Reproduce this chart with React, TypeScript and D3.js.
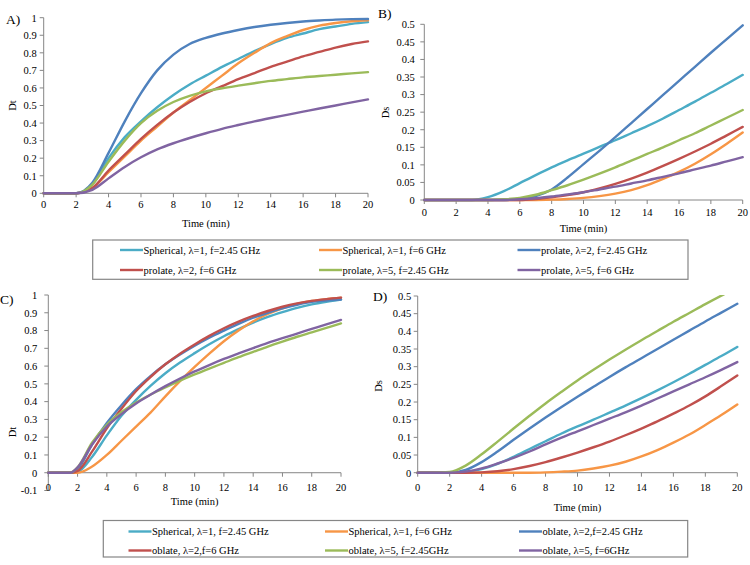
import React from 'react';
import * as d3 from 'd3';

const COLORS = ['#4BACC6', '#F79646', '#4F81BD', '#C0504D', '#9BBB59', '#8064A2'];

const xTicks = [0, 2, 4, 6, 8, 10, 12, 14, 16, 18, 20];
const dtTicksAB = [0, 0.1, 0.2, 0.3, 0.4, 0.5, 0.6, 0.7, 0.8, 0.9, 1];
const dtTicksC = [-0.1, 0, 0.1, 0.2, 0.3, 0.4, 0.5, 0.6, 0.7, 0.8, 0.9, 1];
const dsTicks = [0, 0.05, 0.1, 0.15, 0.2, 0.25, 0.3, 0.35, 0.4, 0.45, 0.5];

const legendTop = [
  'Spherical, λ=1, f=2.45 GHz',
  'Spherical, λ=1, f=6 GHz',
  'prolate, λ=2, f=2.45 GHz',
  'prolate, λ=2, f=6 GHz',
  'prolate, λ=5, f=2.45 GHz',
  'prolate, λ=5, f=6 GHz',
];
const legendBottom = [
  'Spherical, λ=1, f=2.45 GHz',
  'Spherical, λ=1, f=6 GHz',
  'oblate, λ=2,f=2.45 GHz',
  'oblate, λ=2,f=6 GHz',
  'oblate, λ=5, f=2.45GHz',
  'oblate, λ=5, f=6GHz',
];

// Panel A: Dt, prolate
const timeA = [0, 1, 2, 3, 4, 5, 6, 7, 8, 9, 10, 11, 12, 13, 14, 15, 16, 17, 18, 19, 20];
const aSph245 = [0, 0, 0, 0.05, 0.2, 0.32, 0.41, 0.49, 0.56, 0.62, 0.67, 0.72, 0.765, 0.81, 0.85, 0.885, 0.91, 0.935, 0.95, 0.965, 0.975];
const aSph6 = [0, 0, 0, 0.03, 0.12, 0.21, 0.3, 0.38, 0.46, 0.53, 0.6, 0.67, 0.74, 0.8, 0.855, 0.895, 0.93, 0.955, 0.97, 0.98, 0.985];
const aPro2_245 = [0, 0, 0, 0.06, 0.23, 0.41, 0.57, 0.7, 0.79, 0.85, 0.885, 0.91, 0.93, 0.947, 0.96, 0.97, 0.978, 0.984, 0.989, 0.992, 0.993];
const aPro2_6 = [0, 0, 0, 0.03, 0.13, 0.22, 0.31, 0.39, 0.46, 0.52, 0.57, 0.61, 0.65, 0.685, 0.72, 0.75, 0.78, 0.805, 0.83, 0.85, 0.865];
const aPro5_245 = [0, 0, 0, 0.05, 0.18, 0.3, 0.4, 0.47, 0.52, 0.555, 0.58, 0.598, 0.613, 0.627, 0.64, 0.65, 0.66, 0.668, 0.675, 0.683, 0.69];
const aPro5_6 = [0, 0, 0, 0.02, 0.085, 0.15, 0.205, 0.25, 0.285, 0.315, 0.342, 0.367, 0.389, 0.41, 0.429, 0.447, 0.465, 0.483, 0.5, 0.518, 0.535];

// Panel B: Ds, prolate
const timeB = [0, 1, 2, 3, 4, 5, 6, 7, 8, 9, 10, 11, 12, 13, 14, 15, 16, 17, 18, 19, 20];
const bSph245 = [0, 0, 0, 0, 0.008, 0.025, 0.048, 0.071, 0.093, 0.113, 0.132, 0.151, 0.17, 0.19, 0.21, 0.232, 0.256, 0.28, 0.305, 0.33, 0.356];
const bSph6 = [0, 0, 0, 0, 0, 0, 0, 0, 0.001, 0.003, 0.006, 0.011, 0.018, 0.028, 0.042, 0.06, 0.08, 0.103, 0.13, 0.16, 0.192];
const bPro2_245 = [0, 0, 0, 0, 0, 0, 0.003, 0.011, 0.03, 0.064, 0.102, 0.14, 0.179, 0.219, 0.259, 0.299, 0.339, 0.379, 0.419, 0.458, 0.497];
const bPro2_6 = [0, 0, 0, 0, 0, 0, 0, 0.003, 0.008, 0.014, 0.022, 0.033, 0.046, 0.061, 0.078, 0.097, 0.117, 0.138, 0.16, 0.184, 0.208];
const bPro5_245 = [0, 0, 0, 0, 0, 0.002, 0.006, 0.015, 0.028, 0.042, 0.058, 0.075, 0.093, 0.112, 0.131, 0.15, 0.17, 0.19, 0.212, 0.234, 0.256];
const bPro5_6 = [0, 0, 0, 0, 0, 0, 0.002, 0.005, 0.01, 0.016, 0.022, 0.03, 0.038, 0.047, 0.056, 0.066, 0.076, 0.087, 0.098, 0.11, 0.122];

// Panel C: Dt, oblate
const timeC = [0, 1, 1.5, 2, 3, 4, 5, 6, 7, 8, 9, 10, 11, 12, 13, 14, 15, 16, 17, 18, 19, 20];
const cSph245 = [0, 0, 0, 0.005, 0.09, 0.21, 0.32, 0.41, 0.49, 0.56, 0.62, 0.673, 0.723, 0.768, 0.808, 0.845, 0.877, 0.904, 0.928, 0.947, 0.962, 0.975];
const cSph6 = [0, 0, 0, 0, 0.035, 0.1, 0.18, 0.26, 0.34, 0.43, 0.515, 0.595, 0.67, 0.74, 0.8, 0.852, 0.893, 0.925, 0.95, 0.966, 0.977, 0.985];
const cObl2_245 = [0, 0, 0, 0.02, 0.16, 0.28, 0.38, 0.47, 0.545, 0.61, 0.665, 0.715, 0.76, 0.8, 0.838, 0.872, 0.9, 0.925, 0.945, 0.961, 0.969, 0.975];
const cObl2_6 = [0, 0, 0, 0.01, 0.12, 0.25, 0.36, 0.46, 0.54, 0.61, 0.67, 0.722, 0.77, 0.813, 0.85, 0.882, 0.91, 0.934, 0.953, 0.967, 0.977, 0.985];
const cObl5_245 = [0, 0, 0, 0.03, 0.17, 0.27, 0.34, 0.395, 0.44, 0.48, 0.518, 0.553, 0.586, 0.618, 0.65, 0.68, 0.71, 0.738, 0.765, 0.79, 0.815, 0.84];
const cObl5_6 = [0, 0, 0, 0.03, 0.16, 0.26, 0.33, 0.39, 0.44, 0.487, 0.53, 0.57, 0.606, 0.64, 0.671, 0.701, 0.73, 0.757, 0.783, 0.809, 0.835, 0.86];

// Panel D: Ds, oblate
const timeD = [0, 1, 2, 3, 4, 5, 6, 7, 8, 9, 10, 11, 12, 13, 14, 15, 16, 17, 18, 19, 20];
const dSph245 = [0, 0, 0, 0.002, 0.01, 0.025, 0.045, 0.067, 0.089, 0.111, 0.131, 0.15, 0.17, 0.19, 0.211, 0.233, 0.256, 0.28, 0.305, 0.33, 0.356];
const dSph6 = [0, 0, 0, 0, 0, 0, 0, 0, 0.001, 0.003, 0.006, 0.012, 0.02, 0.031, 0.046, 0.064, 0.085, 0.108, 0.135, 0.163, 0.193];
const dObl2_245 = [0, 0, 0, 0.008, 0.03, 0.06, 0.093, 0.125, 0.156, 0.186, 0.215, 0.243, 0.271, 0.298, 0.324, 0.35, 0.376, 0.402, 0.428, 0.453, 0.478];
const dObl2_6 = [0, 0, 0, 0, 0.001, 0.004, 0.01, 0.019, 0.03, 0.043, 0.057, 0.072, 0.088, 0.106, 0.125, 0.145, 0.167, 0.19, 0.216, 0.245, 0.275];
const dObl5_245 = [0, 0, 0.002, 0.02, 0.052, 0.088, 0.125, 0.161, 0.196, 0.229, 0.261, 0.291, 0.32, 0.348, 0.375, 0.401, 0.427, 0.452, 0.477, 0.501, 0.524];
const dObl5_6 = [0, 0, 0, 0.003, 0.012, 0.026, 0.042, 0.06, 0.08, 0.099, 0.117, 0.135, 0.153, 0.171, 0.19, 0.21, 0.23, 0.25, 0.27, 0.291, 0.313];

const FONT = "'Liberation Serif', 'Times New Roman', Tinos, 'DejaVu Serif', serif";
const AXIS = '#868686';

type PanelProps = {
  id: string;
  title: string;
  titleX: number;
  titleY: number;
  x0: number;
  x1: number;
  yDomain: [number, number];
  yRange: [number, number];
  yTicks: number[];
  yLabel: string;
  yLabelX: number;
  yLabelY: number;
  yTickGap: number;
  xTickY: number;
  xLabelY: number;
  times: number[];
  series: number[][];
};

function fmt(v: number) {
  return String(Math.round(v * 1000) / 1000);
}

function Panel(p: PanelProps) {
  const x = d3.scaleLinear().domain([0, 20]).range([p.x0, p.x1]);
  const y = d3.scaleLinear().domain(p.yDomain).range(p.yRange);
  const line = d3
    .line<number>()
    .x((_, i) => x(p.times[i]))
    .y((d) => y(d))
    .curve(d3.curveMonotoneX);
  const y0 = y(0);
  const yTop = y(p.yDomain[1]);
  const yBot = y(p.yDomain[0]);
  return (
    <g>
      <defs>
        <clipPath id={'clip' + p.id}>
          <rect x={p.x0 - 2} y={yTop - 1} width={p.x1 - p.x0 + 6} height={yBot - yTop + 4} />
        </clipPath>
      </defs>
      <text x={p.titleX} y={p.titleY} fontSize={13.5}>{p.title}</text>
      <line x1={p.x0} x2={p.x0} y1={yTop} y2={yBot} stroke={AXIS} strokeWidth={1} />
      {p.yTicks.map((t) => (
        <g key={'yt' + t}>
          <line x1={p.x0 - 4} x2={p.x0} y1={y(t)} y2={y(t)} stroke={AXIS} strokeWidth={1} />
          <text x={p.x0 - p.yTickGap} y={y(t) + 3.8} fontSize={10.5} textAnchor="end">{fmt(t)}</text>
        </g>
      ))}
      <line x1={p.x0} x2={p.x1} y1={y0} y2={y0} stroke={AXIS} strokeWidth={1} />
      {xTicks.map((t) => (
        <g key={'xt' + t}>
          <line x1={x(t)} x2={x(t)} y1={y0} y2={y0 + 4} stroke={AXIS} strokeWidth={1} />
          <text x={x(t)} y={p.xTickY} fontSize={10.5} textAnchor="middle">{fmt(t)}</text>
        </g>
      ))}
      <text x={(p.x0 + p.x1) / 2} y={p.xLabelY} fontSize={10.5} textAnchor="middle">Time (min)</text>
      <text
        transform={`translate(${p.yLabelX},${p.yLabelY}) rotate(-90)`}
        fontSize={10.5}
        textAnchor="middle"
        dominantBaseline="central"
      >
        {p.yLabel}
      </text>
      <g clipPath={`url(#clip${p.id})`}>
        {p.series.map((s, i) => (
          <path key={i} d={line(s) || ''} fill="none" stroke={COLORS[i]} strokeWidth={2.4} strokeLinejoin="round" strokeLinecap="round" />
        ))}
      </g>
    </g>
  );
}

type LegendProps = {
  left: number;
  right: number;
  top: number;
  bottom: number;
  rows: [number, number];
  cols: number[];
  labels: string[];
};

function Legend(p: LegendProps) {
  return (
    <g>
      <rect x={p.left} y={p.top} width={p.right - p.left} height={p.bottom - p.top} fill="white" stroke={AXIS} strokeWidth={1.2} />
      {p.labels.map((lab, i) => {
        const cx = p.cols[i % 3];
        const cy = p.rows[Math.floor(i / 3)];
        return (
          <g key={i}>
            <line x1={cx} x2={cx + 23} y1={cy} y2={cy} stroke={COLORS[i]} strokeWidth={2.4} />
            <text x={cx + 23.5} y={cy + 3.6} fontSize={10.5}>{lab}</text>
          </g>
        );
      })}
    </g>
  );
}

export default function App() {
  return (
    <svg
      width={750}
      height={565}
      fontFamily={FONT}
      style={{ position: 'absolute', left: 0, top: 0, background: 'white', fontFamily: FONT }}
    >
      <rect x={0} y={0} width={750} height={565} fill="white" />
      <Panel
        id="A"
        title="A)"
        titleX={6}
        titleY={24}
        x0={43.7}
        x1={368}
        yDomain={[0, 1]}
        yRange={[193.3, 17.7]}
        yTicks={dtTicksAB}
        yLabel="Dt"
        yLabelX={12}
        yLabelY={105.5}
        yTickGap={7}
        xTickY={208}
        xLabelY={226.5}
        times={timeA}
        series={[aSph245, aSph6, aPro2_245, aPro2_6, aPro5_245, aPro5_6]}
      />
      <Panel
        id="B"
        title="B)"
        titleX={378}
        titleY={17.5}
        x0={424.3}
        x1={742.7}
        yDomain={[0, 0.5]}
        yRange={[200, 24.3]}
        yTicks={dsTicks}
        yLabel="Ds"
        yLabelX={385}
        yLabelY={112.5}
        yTickGap={9.5}
        xTickY={216}
        xLabelY={232}
        times={timeB}
        series={[bSph245, bSph6, bPro2_245, bPro2_6, bPro5_245, bPro5_6]}
      />
      <Legend
        left={92.7}
        right={688}
        top={240}
        bottom={279.3}
        rows={[250, 270]}
        cols={[120, 319, 517.5]}
        labels={legendTop}
      />
      <Panel
        id="C"
        title="C)"
        titleX={0}
        titleY={304}
        x0={48.3}
        x1={341}
        yDomain={[-0.1, 1]}
        yRange={[490.5, 295]}
        yTicks={dtTicksC}
        yLabel="Dt"
        yLabelX={12}
        yLabelY={432}
        yTickGap={11}
        xTickY={490.5}
        xLabelY={504.5}
        times={timeC}
        series={[cSph245, cSph6, cObl2_245, cObl2_6, cObl5_245, cObl5_6]}
      />
      <Panel
        id="D"
        title="D)"
        titleX={373}
        titleY={300.5}
        x0={417.7}
        x1={737.3}
        yDomain={[0, 0.5]}
        yRange={[472.7, 296]}
        yTicks={dsTicks}
        yLabel="Ds"
        yLabelX={378}
        yLabelY={386}
        yTickGap={6.5}
        xTickY={491}
        xLabelY={510.5}
        times={timeD}
        series={[dSph245, dSph6, dObl2_245, dObl2_6, dObl5_245, dObl5_6]}
      />
      <Legend
        left={103.3}
        right={687.7}
        top={520.5}
        bottom={557}
        rows={[531.5, 550.5]}
        cols={[128.5, 325, 519]}
        labels={legendBottom}
      />
    </svg>
  );
}
